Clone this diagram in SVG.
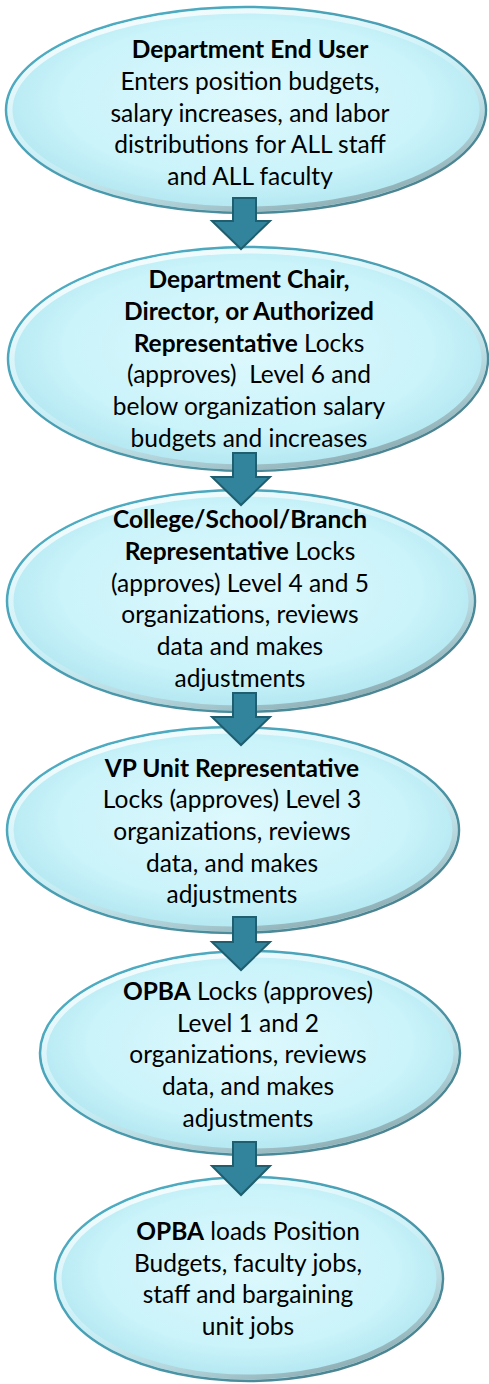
<svg xmlns="http://www.w3.org/2000/svg" width="489" height="1384" viewBox="0 0 489 1384">
<style>
.t{font-family:Lato,"Open Sans","Liberation Sans",sans-serif;font-size:24.5px;fill:#000;text-anchor:middle}
.b{font-weight:bold}
.shape{fill:url(#fillG);stroke:url(#rimG);stroke-width:2.5}
.bevel{fill:none;stroke:url(#bevG);stroke-width:5}
.arrow{fill:#31849B;stroke:#1F5E6E;stroke-width:2;stroke-linejoin:miter}
</style>
<defs>
<radialGradient id="fillG" cx="0.5" cy="0.45" r="0.55">
<stop offset="0" stop-color="#DDF9FD"/>
<stop offset="0.7" stop-color="#CAF3FA"/>
<stop offset="1" stop-color="#B0E6F0"/>
</radialGradient>
<linearGradient id="rimG" x1="0" y1="0" x2="1" y2="1">
<stop offset="0" stop-color="#4FB2C9"/>
<stop offset="0.5" stop-color="#4A9CB0"/>
<stop offset="1" stop-color="#4E7A84"/>
</linearGradient>
<linearGradient id="bevG" x1="0.2" y1="0" x2="0.8" y2="1">
<stop offset="0" stop-color="#FFFFFF" stop-opacity="0.9"/>
<stop offset="0.5" stop-color="#E6F8FB" stop-opacity="0.4"/>
<stop offset="1" stop-color="#7C9AA0" stop-opacity="0.9"/>
</linearGradient>
</defs>

<g id="node1">
<ellipse class="shape" cx="246" cy="110" rx="240" ry="103"/>
<ellipse class="bevel" cx="246" cy="110" rx="236" ry="99"/>
<text class="t" x="250" y="58"><tspan class="b">Department End User</tspan></text>
<text class="t" x="250" y="90">Enters position budgets,</text>
<text class="t" x="250" y="122">salary increases, and labor</text>
<text class="t" x="250" y="153">distributions for ALL staff</text>
<text class="t" x="250" y="185">and ALL faculty</text>
</g>

<g id="node2">
<ellipse class="shape" cx="248" cy="359" rx="240" ry="112"/>
<ellipse class="bevel" cx="248" cy="359" rx="236" ry="108"/>
<text class="t" x="249" y="288"><tspan class="b">Department Chair,</tspan></text>
<text class="t" x="249" y="320"><tspan class="b">Director, or Authorized</tspan></text>
<text class="t" x="249" y="352"><tspan class="b">Representative</tspan> Locks</text>
<text class="t" x="249" y="383">(approves)&#160; Level 6 and</text>
<text class="t" x="249" y="415">below organization salary</text>
<text class="t" x="249" y="447">budgets and increases</text>
</g>

<g id="node3">
<ellipse class="shape" cx="241" cy="601" rx="234" ry="111"/>
<ellipse class="bevel" cx="241" cy="601" rx="230" ry="107"/>
<text class="t" x="240" y="528"><tspan class="b">College/School/Branch</tspan></text>
<text class="t" x="240" y="560"><tspan class="b">Representative</tspan> Locks</text>
<text class="t" x="240" y="592">(approves) Level 4 and 5</text>
<text class="t" x="240" y="623">organizations, reviews</text>
<text class="t" x="240" y="655">data and makes</text>
<text class="t" x="240" y="687">adjustments</text>
</g>

<g id="node4">
<ellipse class="shape" cx="233" cy="830" rx="226" ry="103"/>
<ellipse class="bevel" cx="233" cy="830" rx="222" ry="99"/>
<text class="t" x="232" y="777"><tspan class="b">VP Unit Representative</tspan></text>
<text class="t" x="232" y="808">Locks (approves) Level 3</text>
<text class="t" x="232" y="840">organizations, reviews</text>
<text class="t" x="232" y="872">data, and makes</text>
<text class="t" x="232" y="903">adjustments</text>
</g>

<g id="node5">
<ellipse class="shape" cx="250" cy="1053" rx="210" ry="102"/>
<ellipse class="bevel" cx="250" cy="1053" rx="206" ry="98"/>
<text class="t" x="248" y="1000"><tspan class="b">OPBA</tspan> Locks (approves)</text>
<text class="t" x="248" y="1032">Level 1 and 2</text>
<text class="t" x="248" y="1063">organizations, reviews</text>
<text class="t" x="248" y="1095">data, and makes</text>
<text class="t" x="248" y="1127">adjustments</text>
</g>

<g id="node6">
<ellipse class="shape" cx="249" cy="1279" rx="194" ry="102"/>
<ellipse class="bevel" cx="249" cy="1279" rx="190" ry="98"/>
<text class="t" x="248" y="1240"><tspan class="b">OPBA</tspan> loads Position</text>
<text class="t" x="248" y="1272">Budgets, faculty jobs,</text>
<text class="t" x="248" y="1303">staff and bargaining</text>
<text class="t" x="248" y="1335">unit jobs</text>
</g>

<g id="connectors">
<path class="arrow" d="M233,198 H256 V221 H270 L241,249 L212,221 H233 Z"/>
<path class="arrow" d="M233,453 H256 V477 H270 L241,505 L212,477 H233 Z"/>
<path class="arrow" d="M233,693 H256 V717 H270 L241,745 L212,717 H233 Z"/>
<path class="arrow" d="M233,917 H256 V942 H270 L241,970 L212,942 H233 Z"/>
<path class="arrow" d="M233,1142 H256 V1166 H270 L241,1195 L212,1166 H233 Z"/>
</g>
</svg>
